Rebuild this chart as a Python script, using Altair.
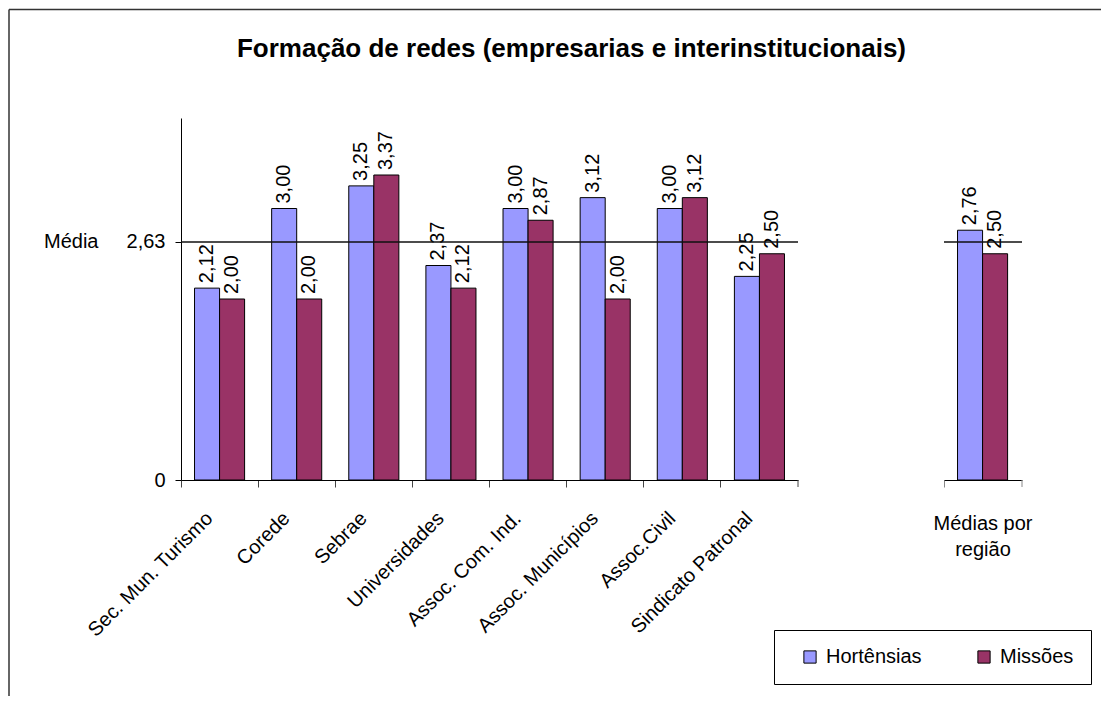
import altair as alt
import pandas as pd

categorias = ["Sec. Mun. Turismo", "Corede", "Sebrae", "Universidades",
              "Assoc. Com. Ind.", "Assoc. Municípios", "Assoc.Civil", "Sindicato Patronal"]
series = ["Hortênsias", "Missões"]
hortensias = [2.12, 3.00, 3.25, 2.37, 3.00, 3.12, 3.00, 2.25]
missoes = [2.00, 2.00, 3.37, 2.12, 2.87, 2.00, 3.12, 2.50]
medias_categoria = ["Médias por região"]
medias_hortensias = [2.76]
medias_missoes = [2.50]
media_geral = 2.63
titulo = "Formação de redes (empresarias e interinstitucionais)"
cores = ["#9999FF", "#993366"]

FONT = "Liberation Sans"
FS = 20
W1, W2, H = 617, 78, 362

df = pd.DataFrame({
    "categoria": categorias * 2,
    "serie": [series[0]] * len(categorias) + [series[1]] * len(categorias),
    "valor": hortensias + missoes,
})
dfm = pd.DataFrame({
    "categoria": medias_categoria * 2,
    "serie": series,
    "valor": medias_hortensias + medias_missoes,
})
dmedia = pd.DataFrame({"valor": [media_geral], "t": ["Média"]})

label_calc = "replace(format(datum.valor, '.2f'), '.', ',')"

color = alt.Color("serie:N", sort=series,
                  scale=alt.Scale(domain=series, range=cores),
                  legend=alt.Legend(orient="none", legendX=593, legendY=512,
                                    direction="horizontal", title=None,
                                    symbolType="square", symbolSize=150,
                                    symbolStrokeColor="black", symbolStrokeWidth=1,
                                    labelFontSize=FS, labelFont=FONT, labelColor="black",
                                    strokeColor="black", fillColor="white",
                                    padding=17, columnPadding=43, symbolOffset=9,
                                    labelOffset=6))
xoff = alt.XOffset("serie:N", sort=series,
                   scale=alt.Scale(paddingInner=0, paddingOuter=0.54))
yscale = alt.Scale(domain=[0, 4], nice=False)

# ---------- left panel ----------
x_left = alt.X("categoria:N", sort=categorias, title=None,
               scale=alt.Scale(paddingInner=0, paddingOuter=0),
               axis=alt.Axis(bandPosition=0, labelAngle=-45, labelAlign="right",
                             labelBaseline="middle", labelOffset=-10, labelPadding=28,
                             tickSize=7, tickColor="#444", domainColor="black",
                             labelFontSize=FS, labelFont=FONT, labelColor="black",
                             labelLimit=0))
y_left = alt.Y("valor:Q", scale=yscale, title=None,
               axis=alt.Axis(values=[0, media_geral],
                             labelExpr="datum.value == 0 ? '0' : replace(format(datum.value, '.2f'), '.', ',')",
                             tickSize=6, labelPadding=10, domainColor="black", tickColor="black",
                             labelFontSize=FS, labelFont=FONT, labelColor="black", grid=False))

base_l = alt.Chart(df)
bars_l = base_l.mark_bar(stroke="black", strokeWidth=1).encode(
    x=x_left, xOffset=xoff, y=y_left, color=color)
text_l = base_l.transform_calculate(rotulo=label_calc).mark_text(
    angle=270, align="left", baseline="middle", dx=5, fontSize=FS, font=FONT, color="black"
).encode(x=x_left, xOffset=xoff, y=y_left, text="rotulo:N")
rule_l = alt.Chart(dmedia).mark_rule(color="#111", strokeWidth=1.5).encode(y=y_left)
media_txt = alt.Chart(dmedia).mark_text(
    align="left", baseline="middle", fontSize=FS, font=FONT, color="black"
).encode(x=alt.value(-137), y=y_left, text="t:N")
tick_end_l = alt.Chart(pd.DataFrame({"a": [0]})).mark_rule(color="#444").encode(
    x=alt.value(W1), y=alt.value(H), y2=alt.value(H + 7))

left = alt.layer(bars_l, text_l, rule_l, media_txt, tick_end_l).properties(
    width=W1, height=H,
    title=alt.Title(titulo, fontSize=26, fontWeight="bold", font=FONT, color="black",
                    anchor="middle", frame="group", offset=56, dx=82))

# ---------- right panel ----------
x_right = alt.X("categoria:N", title=None,
                scale=alt.Scale(paddingInner=0, paddingOuter=0),
                axis=alt.Axis(bandPosition=0, labelAngle=0, labelAlign="center",
                              labelBaseline="top", labelOffset=0, labelPadding=26,
                              labelExpr="['Médias por', 'região']", labelLineHeight=26,
                              tickSize=7, tickColor="#888", domainColor="black",
                              labelFontSize=FS, labelFont=FONT, labelColor="black"))
y_right = alt.Y("valor:Q", scale=yscale, title=None, axis=None)

base_r = alt.Chart(dfm)
bars_r = base_r.mark_bar(stroke="black", strokeWidth=1).encode(
    x=x_right, xOffset=xoff, y=y_right, color=color)
text_r = base_r.transform_calculate(rotulo=label_calc).mark_text(
    angle=270, align="left", baseline="middle", dx=5, fontSize=FS, font=FONT, color="black"
).encode(x=x_right, xOffset=xoff, y=y_right, text="rotulo:N")
rule_r = alt.Chart(dmedia).mark_rule(color="#111", strokeWidth=1.5).encode(y=y_right)
tick_end_r = alt.Chart(pd.DataFrame({"a": [0]})).mark_rule(color="#888").encode(
    x=alt.value(W2), y=alt.value(H), y2=alt.value(H + 7))
# outer chart-area border (left and top edges)
border_left = alt.Chart(pd.DataFrame({"a": [0]})).mark_rule(color="#333", strokeWidth=1.5).encode(
    x=alt.value(-935), y=alt.value(-108.5), y2=alt.value(578))
border_top = alt.Chart(pd.DataFrame({"a": [0]})).mark_rule(color="#333", strokeWidth=1.5).encode(
    x=alt.value(-935), x2=alt.value(157), y=alt.value(-108.5))

right = alt.layer(bars_r, text_r, rule_r, tick_end_r, border_left, border_top).properties(
    width=W2, height=H)

chart = alt.hconcat(left, right, spacing=146, bounds="flush").resolve_scale(
    color="shared").properties(padding=0).configure(font=FONT).configure_view(stroke=None)

chart.save("out.html", embed_options={"renderer": "svg", "actions": False})
